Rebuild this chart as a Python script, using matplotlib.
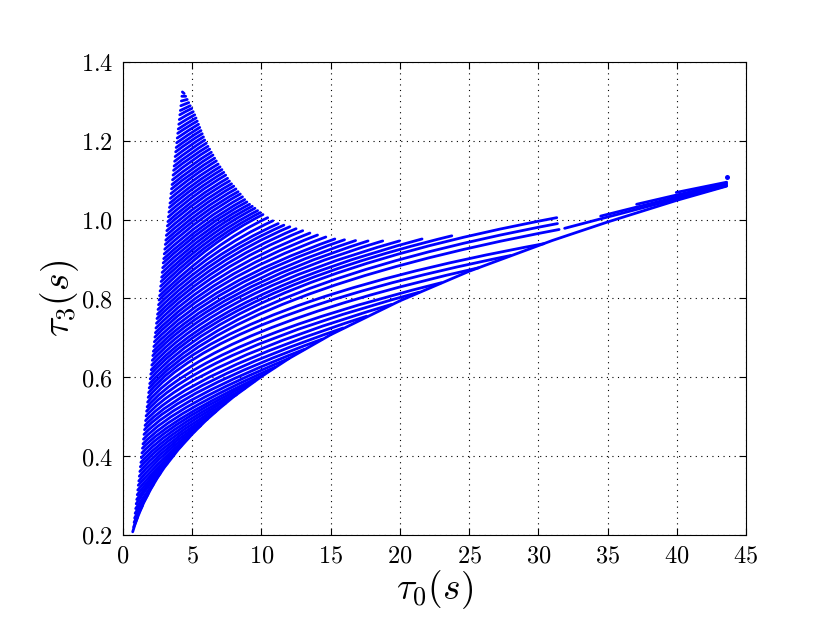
import matplotlib
matplotlib.use('Agg')
import matplotlib.pyplot as plt
from matplotlib.path import Path
from matplotlib.patches import PathPatch
from matplotlib.ticker import FuncFormatter, MultipleLocator

plt.rcParams['mathtext.fontset'] = 'cm'
plt.rcParams['font.family'] = 'serif'
plt.rcParams['font.serif'] = ['DejaVu Serif']

# template rows: start on the steep left edge,
# a bend (control) point, and where the row stops
start_tau0 = [4.289, 4.251, 4.214, 4.176, 4.139, 4.101, 4.064, 4.026, 3.989, 3.951,
              3.914, 3.876, 3.839, 3.801, 3.764, 3.726, 3.689, 3.651, 3.614, 3.576,
              3.539, 3.501, 3.464, 3.426, 3.389, 3.351, 3.314, 3.276, 3.239, 3.201,
              3.164, 3.126, 3.089, 3.051, 3.014, 2.976, 2.939, 2.901, 2.864, 2.826,
              2.789, 2.751, 2.714, 2.676, 2.639, 2.601, 2.564, 2.526, 2.489, 2.451,
              2.414, 2.376, 2.339, 2.301, 2.264, 2.226, 2.189, 2.151, 2.114, 2.076,
              2.039, 2.001, 1.964, 1.926, 1.889, 1.851, 1.814, 1.776, 1.739, 1.701,
              1.664, 1.626, 1.589, 1.551, 1.514, 1.476, 1.439, 1.401, 1.364, 1.326,
              1.289, 1.251, 1.214, 1.176, 1.139, 1.101, 1.064, 1.026, 0.989, 0.951,
              0.914, 0.876, 0.839, 0.801, 0.764]
start_tau3 = [1.324, 1.313, 1.301, 1.289, 1.277, 1.266, 1.254, 1.242, 1.230, 1.219,
              1.207, 1.195, 1.183, 1.172, 1.160, 1.148, 1.136, 1.125, 1.113, 1.101,
              1.089, 1.078, 1.066, 1.054, 1.042, 1.031, 1.019, 1.007, 0.995, 0.984,
              0.972, 0.960, 0.948, 0.937, 0.925, 0.913, 0.901, 0.890, 0.878, 0.866,
              0.854, 0.843, 0.831, 0.819, 0.807, 0.796, 0.784, 0.772, 0.760, 0.749,
              0.737, 0.725, 0.713, 0.702, 0.690, 0.678, 0.666, 0.655, 0.643, 0.631,
              0.619, 0.608, 0.596, 0.584, 0.573, 0.561, 0.549, 0.537, 0.525, 0.514,
              0.502, 0.490, 0.478, 0.467, 0.455, 0.443, 0.431, 0.420, 0.408, 0.396,
              0.384, 0.373, 0.361, 0.349, 0.337, 0.326, 0.314, 0.302, 0.290, 0.279,
              0.267, 0.255, 0.243, 0.232, 0.220]
bend_tau0 = [4.352, 4.390, 4.426, 4.462, 4.498, 4.533, 4.569, 4.605, 4.633, 4.658,
             4.685, 4.710, 4.737, 4.762, 4.789, 4.815, 4.854, 4.895, 4.937, 4.978,
             5.020, 5.061, 5.103, 5.150, 5.200, 5.249, 5.298, 5.347, 5.396, 5.445,
             5.502, 5.563, 5.623, 5.683, 5.744, 5.803, 5.864, 5.925, 6.003, 6.081,
             6.159, 6.238, 6.316, 6.394, 6.568, 6.355, 6.238, 6.323, 6.376, 6.361,
             6.367, 6.315, 6.333, 6.314, 6.336, 6.456, 6.529, 6.619, 6.810, 7.011,
             7.214, 7.518, 8.605, 8.378, 8.130, 7.300, 6.596, 6.230, 5.705, 5.470,
             5.098, 4.763, 4.441, 4.113, 3.870, 3.692, 3.532, 3.400, 3.300, 3.200,
             3.100, 3.000, 2.950, 2.900, 2.900, 2.900, 2.850, 2.600, 2.400, 2.200,
             1.807, 1.538, 1.320, 1.101, 0.907]
bend_tau3 = [1.322, 1.313, 1.303, 1.293, 1.283, 1.275, 1.265, 1.255, 1.245, 1.236,
             1.226, 1.216, 1.207, 1.198, 1.188, 1.178, 1.169, 1.160, 1.151, 1.141,
             1.132, 1.123, 1.114, 1.105, 1.096, 1.088, 1.079, 1.071, 1.062, 1.054,
             1.045, 1.037, 1.029, 1.021, 1.013, 1.004, 0.996, 0.989, 0.982, 0.975,
             0.968, 0.961, 0.954, 0.948, 0.941, 0.925, 0.912, 0.905, 0.897, 0.887,
             0.878, 0.867, 0.858, 0.849, 0.840, 0.835, 0.828, 0.823, 0.821, 0.819,
             0.817, 0.821, 0.855, 0.838, 0.821, 0.790, 0.757, 0.724, 0.690, 0.665,
             0.637, 0.611, 0.588, 0.566, 0.546, 0.528, 0.511, 0.495, 0.483, 0.470,
             0.457, 0.444, 0.433, 0.422, 0.412, 0.399, 0.388, 0.372, 0.358, 0.345,
             0.312, 0.292, 0.273, 0.253, 0.232]
end_tau0 = [4.416, 4.529, 4.638, 4.747, 4.856, 4.965, 5.074, 5.183, 5.276, 5.365,
            5.455, 5.544, 5.634, 5.723, 5.813, 5.903, 6.018, 6.138, 6.259, 6.380,
            6.500, 6.621, 6.742, 6.874, 7.010, 7.146, 7.282, 7.417, 7.553, 7.689,
            7.840, 7.999, 8.156, 8.314, 8.473, 8.630, 8.789, 8.948, 9.142, 9.336,
            9.529, 9.724, 9.918, 10.111, 10.45, 10.82, 11.21, 11.62, 12.05, 12.50,
            12.98, 13.50, 14.05, 14.65, 15.30, 16.00, 16.80, 17.70, 18.76, 19.97,
            21.60, 23.75, 31.33, 31.38, 31.50, 30.40, 28.00, 25.70, 23.00, 21.40,
            19.40, 17.60, 15.90, 14.40, 13.10, 12.00, 11.00, 10.20, 9.50, 8.80,
            8.20, 7.40, 6.70, 6.10, 5.60, 5.20, 4.70, 4.20, 3.70, 3.20,
            2.70, 2.20, 1.80, 1.40, 1.05]
end_tau3 = [1.320, 1.313, 1.305, 1.297, 1.289, 1.282, 1.274, 1.266, 1.258, 1.250,
            1.242, 1.234, 1.226, 1.218, 1.210, 1.202, 1.194, 1.186, 1.179, 1.171,
            1.164, 1.156, 1.149, 1.141, 1.134, 1.127, 1.120, 1.113, 1.105, 1.098,
            1.091, 1.085, 1.078, 1.071, 1.065, 1.058, 1.051, 1.045, 1.039, 1.034,
            1.029, 1.023, 1.018, 1.013, 1.005, 0.997, 0.990, 0.986, 0.982, 0.977,
            0.972, 0.966, 0.961, 0.956, 0.951, 0.949, 0.947, 0.946, 0.946, 0.946,
            0.951, 0.959, 1.005, 0.990, 0.975, 0.939, 0.909, 0.878, 0.840, 0.816,
            0.785, 0.755, 0.725, 0.697, 0.671, 0.648, 0.626, 0.607, 0.590, 0.572,
            0.556, 0.534, 0.513, 0.494, 0.477, 0.464, 0.445, 0.426, 0.405, 0.382,
            0.357, 0.329, 0.303, 0.274, 0.245]

# equal-mass lower edge
edge_tau0 = [0.70, 0.85, 1.0, 1.25, 1.5, 2.0, 2.5, 3.0, 4.0, 5.0, 6.0, 7.0, 8.0,
             10.0, 12.0, 15.0, 20.0, 25.0, 31.0, 35.0, 40.0, 43.6]
edge_tau3 = [0.208, 0.225, 0.240, 0.262, 0.282, 0.316, 0.346, 0.372, 0.417, 0.456,
             0.491, 0.522, 0.551, 0.602, 0.648, 0.708, 0.794, 0.869, 0.947, 0.994,
             1.049, 1.085]

# short rows near the right end
tail_tau0_a = [31.9, 34.5, 37.1, 39.96]
tail_tau3_a = [0.978, 1.009, 1.039, 1.069]
tail_tau0_b = [43.6, 43.6, 43.6, 43.6]
tail_tau3_b = [1.086, 1.089, 1.092, 1.095]
lone_tau0 = [43.6]
lone_tau3 = [1.107]

blue = (0, 0, 1)
lw = 2.0

fig = plt.figure(figsize=(8.3, 6.23), dpi=100)
ax = fig.add_axes([0.1482, 0.1413, 0.7506, 0.7592])

for x0, y0, xc, yc, x1, y1 in zip(start_tau0, start_tau3, bend_tau0, bend_tau3,
                                  end_tau0, end_tau3):
    row = Path([(x0, y0), (xc, yc), (x1, y1)],
               [Path.MOVETO, Path.CURVE3, Path.CURVE3])
    ax.add_patch(PathPatch(row, fill=False, edgecolor=blue, lw=lw,
                           capstyle='round', zorder=3))

ax.plot(edge_tau0, edge_tau3, color=blue, lw=lw, solid_capstyle='round', zorder=3)
for xa, ya, xb, yb in zip(tail_tau0_a, tail_tau3_a, tail_tau0_b, tail_tau3_b):
    ax.plot([xa, xb], [ya, yb], color=blue, lw=lw, solid_capstyle='round', zorder=3)
ax.plot(lone_tau0, lone_tau3, 'o', color=blue, ms=3.6, mew=0, zorder=3)

ax.set_xlim(0, 45)
ax.set_ylim(0.2, 1.4)
ax.xaxis.set_major_locator(MultipleLocator(5))
ax.yaxis.set_major_locator(MultipleLocator(0.2))
ax.xaxis.set_major_formatter(FuncFormatter(lambda v, p: r'$%d$' % round(v)))
ax.yaxis.set_major_formatter(FuncFormatter(lambda v, p: r'$%.1f$' % v))
ax.tick_params(direction='in', top=True, right=True, length=5, width=0.8,
               labelsize=17.5, pad=7)
ax.grid(True, color='k', ls=(0, (1, 4)), lw=0.8)
ax.set_axisbelow(True)

ax.set_xlabel(r'$\tau_0(s)$', fontsize=27, labelpad=0)
ax.set_ylabel(r'$\tau_3(s)$', fontsize=27, labelpad=0)

fig.savefig('out.png', dpi=100)
